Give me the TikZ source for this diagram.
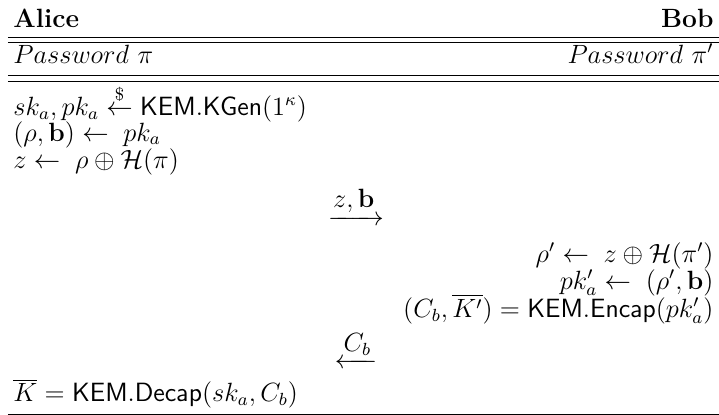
\documentclass[12pt,tikz,border=0pt]{standalone}
\usepackage{amsmath,amssymb}
\begin{document}
\begin{tikzpicture}[x=1pt, y=1pt,
  lcell/.style={anchor=base west, inner sep=0pt},
  rcell/.style={anchor=base east, inner sep=0pt},
  msg/.style={anchor=base, inner sep=0pt},
  tabrule/.style={line width=0.4pt}]
  \useasboundingbox (0,0) rectangle (326.8,-188.6);
  % parties
  \node[lcell] (alice) at (5.9,-12.3) {\textbf{Alice}};
  \node[rcell] (bob) at (324.5,-12.3) {\textbf{Bob}};
  \draw[tabrule] (3.6,-17.1) -- (326.8,-17.1);
  \draw[tabrule] (3.6,-19.4) -- (326.8,-19.4);
  \node[lcell] (pwa) at (5.9,-28.8) {$Password\ \pi$};
  \node[rcell] (pwb) at (324.5,-28.8) {$Password\ \pi'$};
  \draw[tabrule] (3.6,-34.5) -- (326.8,-34.5);
  \draw[tabrule] (3.6,-37.1) -- (326.8,-37.1);
  % Alice, first round
  \node[lcell] (kgen) at (5.9,-52.3) {$sk_a, pk_a \stackrel{\$}{\leftarrow} \mathsf{KEM.KGen}(1^\kappa)$};
  \node[lcell] (split) at (5.9,-64.1) {$(\rho,\mathbf{b}) \leftarrow\; pk_a$};
  \node[lcell] (blind) at (5.9,-76.4) {$z \leftarrow\; \rho \oplus \mathcal{H}(\pi)$};
  \node[msg] (msgA) at (161.8,-102.5) {$\xrightarrow{\textstyle z,\mathbf{b}}$};
  % Bob
  \node[rcell] (unblind) at (324.5,-119.1) {$\rho' \leftarrow\; z \oplus \mathcal{H}(\pi')$};
  \node[rcell] (pkb) at (324.5,-131.4) {$pk'_a \leftarrow\; (\rho',\mathbf{b})$};
  \node[rcell] (encap) at (324.5,-144.1) {$(C_b,\overline{K'}) = \mathsf{KEM.Encap}(pk'_a)$};
  \node[msg] (msgB) at (161.8,-167.5) {$\xleftarrow{\textstyle C_b}$};
  % Alice, key
  \node[lcell] (decap) at (5.9,-182.7) {$\overline{K} = \mathsf{KEM.Decap}(sk_a, C_b)$};
  \draw[tabrule] (3.6,-188.2) -- (326.8,-188.2);
\end{tikzpicture}
\end{document}
